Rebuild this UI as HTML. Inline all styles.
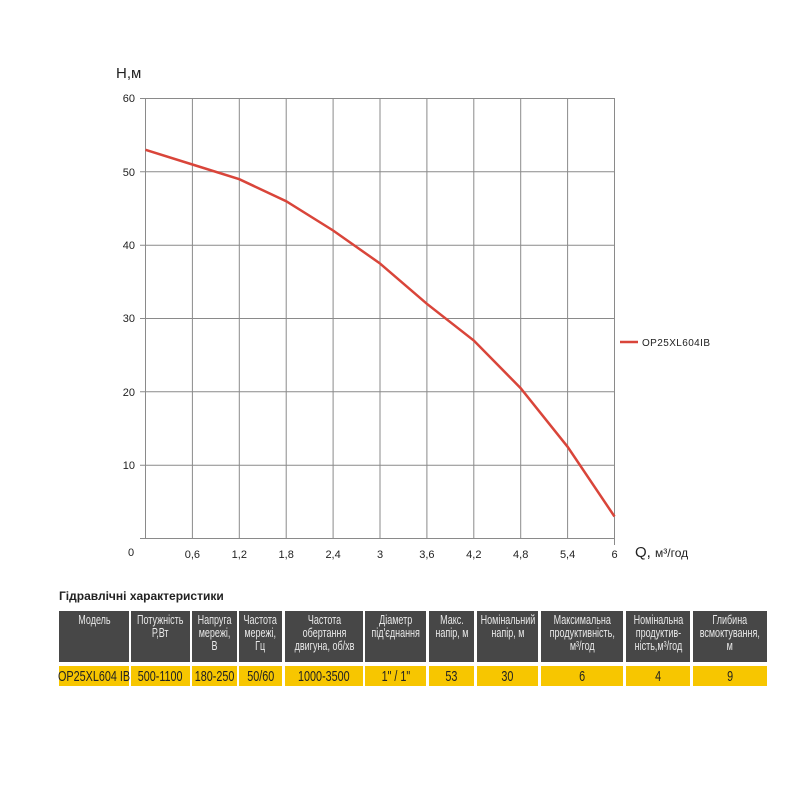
<!DOCTYPE html>
<html><head><meta charset="utf-8"><style>
body{margin:0;background:#fff;width:800px;height:800px;overflow:hidden;font-family:"Liberation Sans",sans-serif;}
.c{position:absolute;box-sizing:border-box;display:flex;align-items:center;justify-content:center;text-align:center;line-height:13px;font-size:12.5px;white-space:nowrap;overflow:visible;}
.c span{display:inline-block;transform:scaleX(.72);}
.h{background:#474747;color:#e8e8e8;top:611px;height:51px;align-items:flex-start;padding-top:3px;}
.y{background:#f7c600;color:#222;top:666px;height:20px;font-size:15px;}
</style></head><body>
<svg width="800" height="800" style="position:absolute;left:0;top:0" font-family="Liberation Sans, sans-serif">
<g stroke="#8a8a8a" stroke-width="1">
<line x1="145.5" y1="98" x2="145.5" y2="538"/>
<line x1="192.4" y1="98" x2="192.4" y2="538"/><line x1="239.3" y1="98" x2="239.3" y2="538"/>
<line x1="286.2" y1="98" x2="286.2" y2="538"/><line x1="333.1" y1="98" x2="333.1" y2="538"/>
<line x1="380" y1="98" x2="380" y2="538"/><line x1="426.9" y1="98" x2="426.9" y2="538"/>
<line x1="473.8" y1="98" x2="473.8" y2="538"/><line x1="520.7" y1="98" x2="520.7" y2="538"/>
<line x1="567.6" y1="98" x2="567.6" y2="538"/><line x1="614.5" y1="98" x2="614.5" y2="545"/>
<line x1="140" y1="98.5" x2="614" y2="98.5"/><line x1="140" y1="171.8" x2="614" y2="171.8"/>
<line x1="140" y1="245.2" x2="614" y2="245.2"/><line x1="140" y1="318.5" x2="614" y2="318.5"/>
<line x1="140" y1="391.8" x2="614" y2="391.8"/><line x1="140" y1="465.2" x2="614" y2="465.2"/>
<line x1="140" y1="538.5" x2="614" y2="538.5"/>
</g>
<polyline fill="none" stroke="#d9453a" stroke-width="2.5" points="145.5,149.8 192.4,164.5 239.3,179.2 286.2,201.2 333.1,230.5 380,263.5 426.9,303.8 473.8,340.5 520.7,388.2 567.6,446.8 614.5,516.5"/>
<g font-size="11" fill="#222" text-anchor="end">
<text x="135" y="102">60</text><text x="135" y="176">50</text><text x="135" y="249">40</text>
<text x="135" y="322">30</text><text x="135" y="396">20</text><text x="135" y="469">10</text>
</g>
<g font-size="11" fill="#222" text-anchor="middle">
<text x="131" y="556">0</text><text x="192.4" y="558">0,6</text><text x="239.3" y="558">1,2</text>
<text x="286.2" y="558">1,8</text><text x="333.1" y="558">2,4</text><text x="380" y="558">3</text>
<text x="426.9" y="558">3,6</text><text x="473.8" y="558">4,2</text><text x="520.7" y="558">4,8</text>
<text x="567.6" y="558">5,4</text><text x="614.5" y="558">6</text>
</g>
<text x="116" y="78" font-size="15" fill="#222">Н,м</text>
<text x="635" y="557" font-size="15" fill="#222">Q, <tspan font-size="12">м³/год</tspan></text>
<line x1="620" y1="342" x2="638" y2="342" stroke="#d9453a" stroke-width="2.5"/>
<text x="642" y="346" font-size="10" fill="#222" textLength="68">OP25XL604IB</text>
<text x="59" y="600" font-size="12" font-weight="bold" fill="#222">Гідравлічні характеристики</text>
</svg>
<div class="c h" style="left:59px;width:70px"><span>Модель</span></div>
<div class="c h" style="left:131px;width:59px"><span>Потужність<br>Р,Вт</span></div>
<div class="c h" style="left:192px;width:45px"><span>Напруга<br>мережі,<br>В</span></div>
<div class="c h" style="left:239px;width:43px"><span>Частота<br>мережі,<br>Гц</span></div>
<div class="c h" style="left:285px;width:78px"><span>Частота<br>обертання<br>двигуна, об/хв</span></div>
<div class="c h" style="left:365px;width:61px"><span>Діаметр<br>під'єднання</span></div>
<div class="c h" style="left:429px;width:45px"><span>Макс.<br>напір, м</span></div>
<div class="c h" style="left:477px;width:61px"><span>Номінальний<br>напір, м</span></div>
<div class="c h" style="left:541px;width:82px"><span>Максимальна<br>продуктивність,<br>м³/год</span></div>
<div class="c h" style="left:626px;width:64px"><span>Номінальна<br>продуктив-<br>ність,м³/год</span></div>
<div class="c h" style="left:693px;width:74px"><span>Глибина<br>всмоктування,<br>м</span></div>
<div class="c y" style="left:59px;width:70px"><span>OP25XL604 IB</span></div>
<div class="c y" style="left:131px;width:59px"><span>500-1100</span></div>
<div class="c y" style="left:192px;width:45px"><span>180-250</span></div>
<div class="c y" style="left:239px;width:43px"><span>50/60</span></div>
<div class="c y" style="left:285px;width:78px"><span>1000-3500</span></div>
<div class="c y" style="left:365px;width:61px"><span>1" / 1"</span></div>
<div class="c y" style="left:429px;width:45px"><span>53</span></div>
<div class="c y" style="left:477px;width:61px"><span>30</span></div>
<div class="c y" style="left:541px;width:82px"><span>6</span></div>
<div class="c y" style="left:626px;width:64px"><span>4</span></div>
<div class="c y" style="left:693px;width:74px"><span>9</span></div>
</body></html>
